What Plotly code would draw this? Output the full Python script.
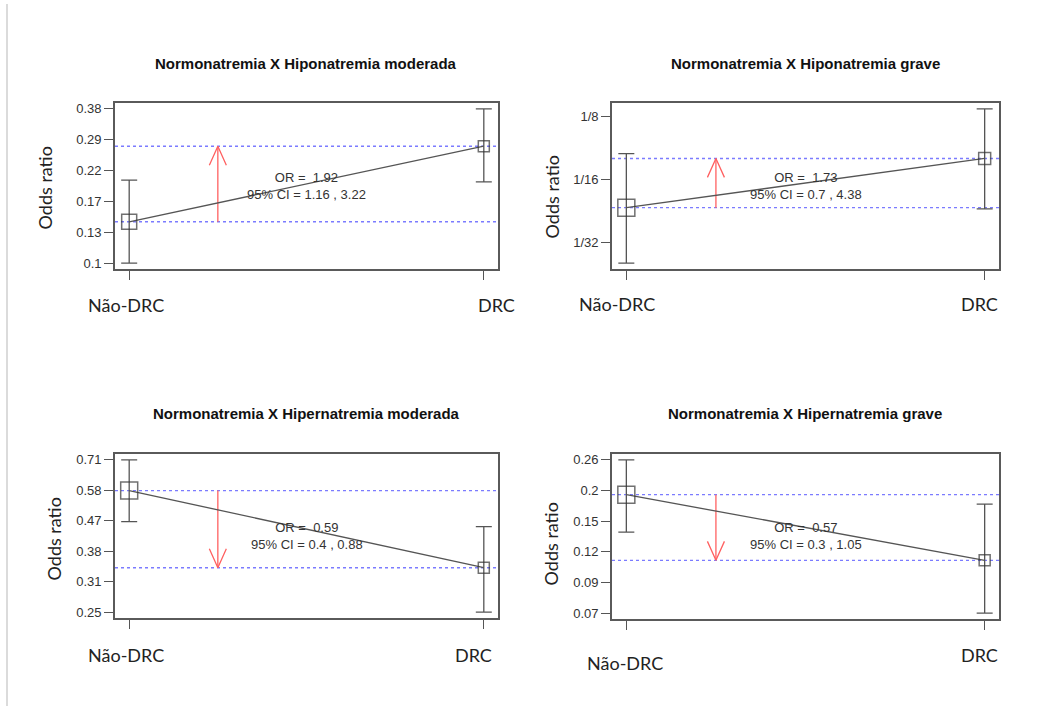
import numpy as np
import plotly.graph_objects as go

W, H = 1064, 707

# ---------------- data ----------------
titles = ["Normonatremia X Hiponatremia moderada",
          "Normonatremia X Hiponatremia grave",
          "Normonatremia X Hipernatremia moderada",
          "Normonatremia X Hipernatremia grave"]
groups = ["Não-DRC", "DRC"]
odds = [[0.143, 0.275], [0.0459, 0.0790], [0.575, 0.339], [0.193, 0.110]]
ci_low = [[0.100, 0.202], [0.0249, 0.0453], [0.465, 0.250], [0.140, 0.070]]
ci_high = [[0.205, 0.380], [0.0834, 0.1365], [0.710, 0.4495], [0.260, 0.178]]
or_values = ["1.92", "1.73", "0.59", "0.57"]
or_ci_low = ["1.16", "0.7", "0.4", "0.3"]
or_ci_high = ["3.22", "4.38", "0.88", "1.05"]
ytick_labels = [["0.1", "0.13", "0.17", "0.22", "0.29", "0.38"],
                ["1/32", "1/16", "1/8"],
                ["0.25", "0.31", "0.38", "0.47", "0.58", "0.71"],
                ["0.07", "0.09", "0.12", "0.15", "0.2", "0.26"]]
ytick_fixed = [None, [1 / 32, 1 / 16, 1 / 8], None, None]

# ---------------- layout / style ----------------
boxes = [(115, 498, 102, 269), (612, 999, 102, 269),
         (115, 498, 454, 619), (612, 999, 454, 620)]
marker_sizes = [[15, 11], [17, 12], [17, 11], [17, 11]]
title_pos = [(306, 63), (805, 63), (306, 414), (805, 414)]
ylab_pos = [(45, 188), (552, 197), (54, 540), (551, 545)]
xlab_pos = [[(126, 305), (496, 305)], [(617, 304), (979, 304)],
            [(126, 656), (473, 656)], [(625, 664), (979, 656)]]
arrow_x = 1.25
XR = [0.96, 2.04]

TICKFONT = dict(family="Liberation Sans, Arial, sans-serif", size=13, color="#333")
LABFONT = dict(family="Lato, Carlito, Open Sans, sans-serif", size=18, color="#222")

fig = go.Figure()
annotations = []
layout = {}

for i in range(4):
    n = "" if i == 0 else str(i + 1)
    xax, yax = "x" + n, "y" + n
    x0, x1, y0, y1 = boxes[i]
    lo = np.log10(min(ci_low[i]))
    hi = np.log10(max(ci_high[i]))
    span = hi - lo
    yr = [lo - 0.04 * span, hi + 0.04 * span]
    tv = ytick_fixed[i] if ytick_fixed[i] is not None else list(
        np.geomspace(min(ci_low[i]), max(ci_high[i]), len(ytick_labels[i])))

    layout["xaxis" + n] = dict(
        domain=[x0 / W, x1 / W], range=XR, anchor=yax, tickvals=[1, 2],
        showticklabels=False, ticks="outside", ticklen=9, tickwidth=1.3,
        tickcolor="#555", showline=True, mirror=True, linecolor="#5a5a5a",
        linewidth=1.6, showgrid=False, zeroline=False)
    layout["yaxis" + n] = dict(
        domain=[1 - y1 / H, 1 - y0 / H], type="log", range=yr, anchor=xax,
        tickvals=tv, ticktext=ytick_labels[i], ticks="outside", ticklen=9,
        tickwidth=1.3, tickcolor="#555", tickfont=TICKFONT, showline=True,
        mirror=True, linecolor="#5a5a5a", linewidth=1.6, showgrid=False,
        zeroline=False)

    # reference (dotted) lines at the two odds values
    for v in odds[i]:
        fig.add_trace(go.Scatter(
            x=XR, y=[v, v], xaxis=xax, yaxis=yax, mode="lines",
            line=dict(color="rgba(100,100,255,0.85)", width=1.4, dash="dot"),
            hoverinfo="skip", showlegend=False))

    # red arrow from first to second value
    a, b = odds[i]
    ppd = (y1 - y0) / (yr[1] - yr[0])       # pixels per decade
    ppx = (x1 - x0) / (XR[1] - XR[0])       # pixels per x unit
    head_len, head_half = 19, 8.5
    f = 10 ** (-head_len / ppd) if b > a else 10 ** (head_len / ppd)
    dx = head_half / ppx
    fig.add_trace(go.Scatter(
        x=[arrow_x, arrow_x], y=[a, b], xaxis=xax, yaxis=yax, mode="lines",
        line=dict(color="#ff6060", width=1.3), hoverinfo="skip", showlegend=False))
    fig.add_trace(go.Scatter(
        x=[arrow_x - dx, arrow_x, arrow_x + dx], y=[b * f, b, b * f],
        xaxis=xax, yaxis=yax, mode="lines",
        line=dict(color="#ff6060", width=1.3), hoverinfo="skip", showlegend=False))

    # odds points with CI error bars
    fig.add_trace(go.Scatter(
        x=[1, 2], y=odds[i], xaxis=xax, yaxis=yax, mode="lines+markers",
        line=dict(color="#555", width=1.3),
        marker=dict(symbol="square-open", size=marker_sizes[i], color="#333",
                    line=dict(width=1.5, color="#333")),
        error_y=dict(type="data", symmetric=False,
                     array=[h - v for h, v in zip(ci_high[i], odds[i])],
                     arrayminus=[v - l for l, v in zip(ci_low[i], odds[i])],
                     color="#555", thickness=1.3, width=8),
        showlegend=False, hoverinfo="skip"))

    # OR text
    annotations.append(dict(
        xref=xax + " domain", yref=yax + " domain", x=0.5, y=0.5,
        text=f"OR =  {or_values[i]}<br>95% CI = {or_ci_low[i]} , {or_ci_high[i]}",
        showarrow=False, font=dict(family="Liberation Sans, Arial, sans-serif",
                                   size=13, color="#333")))
    # title
    tx, ty = title_pos[i]
    annotations.append(dict(
        xref="paper", yref="paper", x=tx / W, y=1 - ty / H, text=f"<b>{titles[i]}</b>",
        showarrow=False, xanchor="center", yanchor="middle",
        font=dict(family="Liberation Sans, Arial, sans-serif", size=15, color="#111")))
    # y label
    lx, ly = ylab_pos[i]
    annotations.append(dict(
        xref="paper", yref="paper", x=lx / W, y=1 - ly / H, text="Odds ratio",
        textangle=-90, showarrow=False, xanchor="center", yanchor="middle",
        font=LABFONT))
    # x category labels
    for g, (gx, gy) in zip(groups, xlab_pos[i]):
        annotations.append(dict(
            xref="paper", yref="paper", x=gx / W, y=1 - gy / H, text=g,
            showarrow=False, xanchor="center", yanchor="middle", font=LABFONT))

fig.update_layout(
    width=W, height=H, margin=dict(l=0, r=0, t=0, b=0),
    paper_bgcolor="white", plot_bgcolor="white", showlegend=False,
    annotations=annotations,
    shapes=[dict(type="line", xref="paper", yref="paper", x0=7 / W, x1=7 / W,
                 y0=0, y1=1 - 3 / H, line=dict(color="#cfcfcf", width=1.5))],
    **layout)

fig.write_html("out.html", config={"displayModeBar": False},
               post_script="document.body.style.margin='0';"
                           "document.body.style.overflow='hidden';")
